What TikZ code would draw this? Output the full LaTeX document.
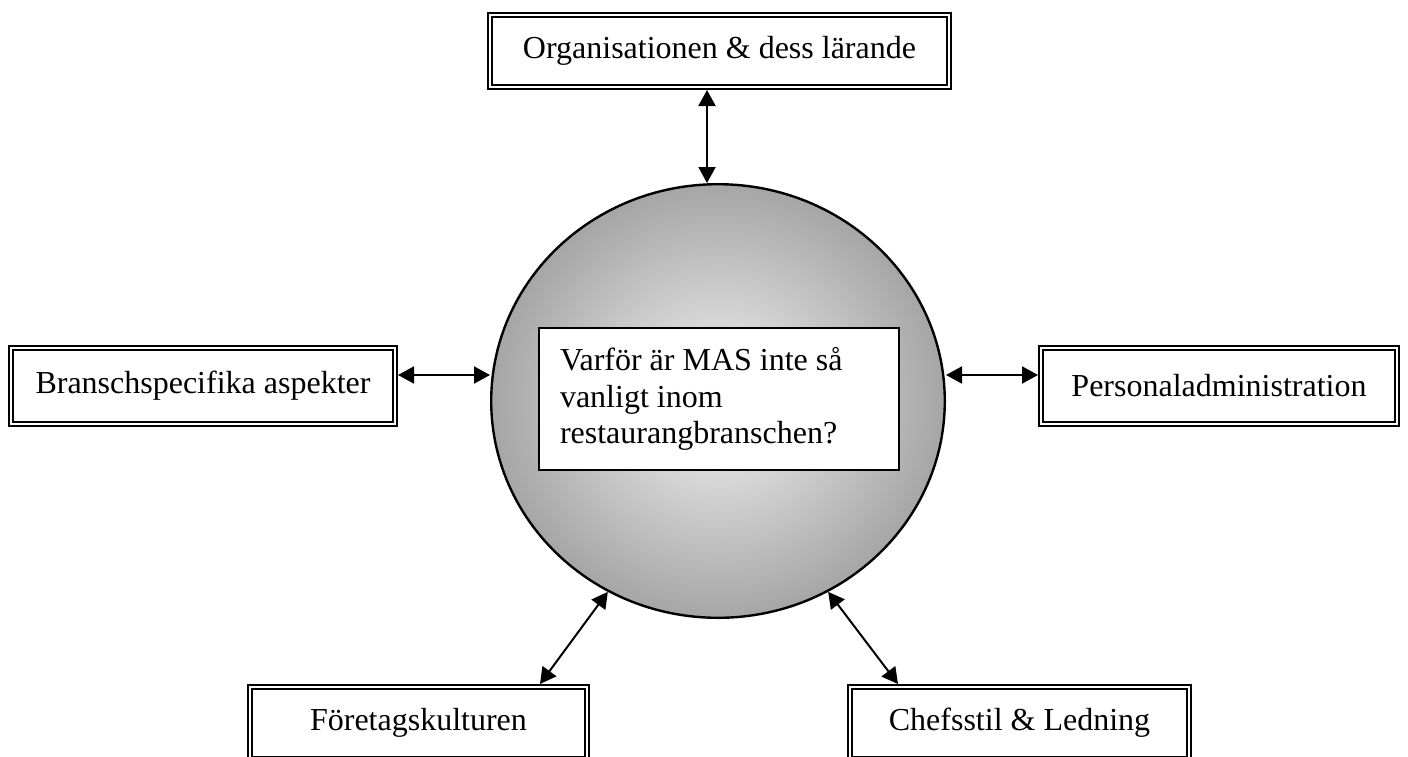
\documentclass[tikz,border=0pt]{standalone}
\usepackage{fontspec}
\setmainfont{Liberation Serif}
\usetikzlibrary{arrows.meta,shapes.geometric}
\begin{document}
\begin{tikzpicture}[x=0.5pt,y=-0.5pt,
  dbox/.style={draw, line width=1pt, double, double distance=1.2pt, fill=white,
    inner sep=0pt, outer sep=1.6pt, font=\fontsize{16pt}{18.4pt}\selectfont},
  qbox/.style={draw, line width=1pt, fill=white, inner xsep=10.5pt, inner ysep=0pt,
    minimum width=180pt, minimum height=71pt, text width=159pt, align=flush left,
    font=\fontsize{16pt}{18.4pt}\selectfont},
  ball/.style={ellipse, draw, line width=1.2pt, shade, shading=radial,
    inner color=black!5, outer color=black!35, inner sep=0pt,
    minimum width=226.8pt, minimum height=216.8pt},
  arr/.style={line width=1pt, {Triangle[length=8pt,width=8.5pt]}-{Triangle[length=8pt,width=8.5pt]}}]
\useasboundingbox (0,0) rectangle (1408,756);
\clip (0,0) rectangle (1408,756);

\node[ball] (c) at (718,401) {};
\node[qbox] (q) at (719,399) {Varför är MAS inte så\\vanligt inom\\restaurangbranschen?};

\node[dbox, minimum width=229.3pt, minimum height=35.8pt] (top) at (719.5,51) {Organisationen \& dess lärande};
\node[dbox, minimum width=191.8pt, minimum height=37.8pt] (left) at (203,386) {Branschspecifika aspekter};
\node[dbox, minimum width=177.8pt, minimum height=37.8pt] (right) at (1219,386) {Personaladministration};
\node[dbox, minimum width=168.3pt, minimum height=35.8pt] (bl) at (418.5,723) {Företagskulturen};
\node[dbox, minimum width=169.3pt, minimum height=35.8pt] (br) at (1019.5,723) {Chefsstil \& Ledning};

\draw[arr] (top.south -| 707,0) -- (c.north -| 707,0);
\draw[arr] (left.east |- 0,375) -- (c.west |- 0,375);
\draw[arr] (right.west |- 0,375) -- (c.east |- 0,375);
\draw[arr] (c.240) -- (bl.north -| 540,0);
\draw[arr] (c.300) -- (br.north -| 898,0);
\end{tikzpicture}
\end{document}
